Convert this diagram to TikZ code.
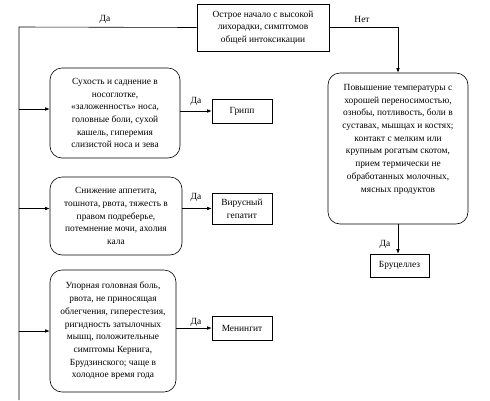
\documentclass[tikz,border=0pt]{standalone}
\usepackage{fontspec}
\setmainfont{Liberation Serif}
\usetikzlibrary{arrows.meta,positioning,calc}

\begin{document}
\begin{tikzpicture}[
  x=1pt,y=1pt,>={Latex[length=4.5pt,width=3.6pt]},
  qbox/.style={draw,line width=.6pt,align=center,inner sep=2pt,
    font=\fontsize{9.4}{12.7}\selectfont},
  sbox/.style={draw,rounded corners=12pt,line width=.6pt,align=center,
    inner sep=2pt,font=\fontsize{9.4}{12.7}\selectfont},
  dbox/.style={draw,line width=.6pt,align=center,inner sep=2pt,
    minimum width=60pt,font=\fontsize{9.4}{12.7}\selectfont},
  flow/.style={->,line width=.6pt},
  line/.style={line width=.6pt},
  lbl/.style={font=\fontsize{9.4}{11}\selectfont,inner sep=1pt}
]
\useasboundingbox (0,0) rectangle (490,-400);
\node[qbox,minimum width=132pt,minimum height=47pt] (start) at (263,-27.5)
  {Острое начало с высокой\\лихорадки, симптомов\\общей интоксикации};
\coordinate (trunk) at (19,-27);
\coordinate (trunkend) at (19,-400);
\draw[line] (start.west) -- (trunk) -- (trunkend);
\node[lbl] at (105,-19) {Да};
\node[lbl] at (362,-19) {Нет};
% left column: symptom groups
\node[sbox,minimum width=130pt,minimum height=90pt] (flu) at (115,-113)
  {Сухость и саднение в\\носоглотке,\\«заложенность» носа,\\головные боли, сухой\\кашель, гиперемия\\слизистой носа и зева};
\node[sbox,minimum width=132pt,minimum height=78pt] (hepat) at (116,-216)
  {Снижение аппетита,\\тошнота, рвота, тяжесть в\\правом подреберье,\\потемнение мочи, ахолия\\кала};
\node[sbox,minimum width=126pt,minimum height=122pt] (mening) at (113,-331)
  {Упорная головная боль,\\рвота, не приносящая\\облегчения, гиперестезия,\\ригидность затылочных\\мышц, положительные\\симптомы Кернига,\\Брудзинского; чаще в\\холодное время года};
\node[dbox,minimum height=24pt] (dflu) at (242,-111) {Грипп};
\node[dbox,minimum height=31pt] (dhep) at (242,-208.5) {Вирусный\\гепатит};
\node[dbox,minimum height=24pt] (dmen) at (242,-328) {Менингит};
\draw[flow] ($(trunk |- flu)+(0,4)$) -- ($(flu.west)+(0,4)$);
\draw[flow] (trunk |- dhep) -- (hepat.west |- dhep);
\draw[flow] (trunk |- mening) -- (mening.west);
\draw[flow] (flu.east |- dflu) -- (dflu);
\draw[flow] (hepat.east |- dhep) -- (dhep);
\draw[flow] (mening.east |- dmen) -- (dmen);
\node[lbl] at (196,-101) {Да};
\node[lbl] at (196,-197) {Да};
\node[lbl] at (196,-322) {Да};
% right column
\node[sbox,minimum width=140pt,minimum height=151pt] (bruc) at (398,-148.5)
  {Повышение температуры с\\хорошей переносимостью,\\ознобы, потливость, боли в\\суставах, мышцах и костях;\\контакт с мелким или\\крупным рогатым скотом,\\прием термически не\\обработанных молочных,\\мясных продуктов\\[8pt]};
\node[dbox,minimum width=59pt,minimum height=23pt] (dbruc) at (399.5,-265.5) {Бруцеллез};
\draw[flow] (start.east) -| (bruc.north);
\draw[flow] (bruc.south) -- (bruc.south |- dbruc.north);
\node[lbl] at (385,-244) {Да};
\end{tikzpicture}
\end{document}
